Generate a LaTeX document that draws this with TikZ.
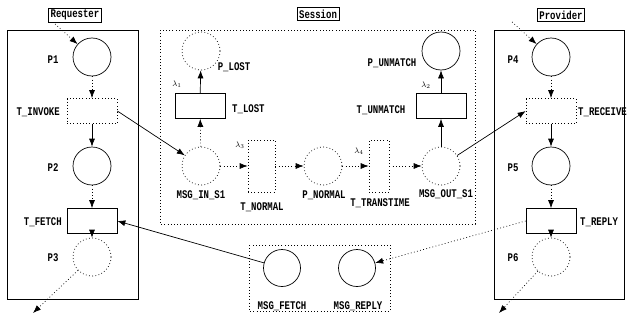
\documentclass[tikz,border=0pt]{standalone}
\usepackage{fontspec}
\newfontfamily\labfont{Liberation Mono}
\usetikzlibrary{arrows.meta}
\newcommand{\tl}[1]{\scalebox{1}[1.3]{#1}}
\tikzset{
  every node/.style={font=\labfont\bfseries\fontsize{9}{10}\selectfont, inner sep=0pt},
  dotline/.style={dash pattern=on 0.8pt off 2.4pt},
  place/.style={circle, draw, line width=0.7pt, minimum size=38pt},
  dplace/.style={circle, draw, dotline, line width=0.7pt, minimum size=38pt},
  trans/.style={rectangle, draw, line width=0.7pt, minimum width=50pt, minimum height=25pt},
  dtrans/.style={rectangle, draw, dotline, line width=0.7pt, minimum width=50pt, minimum height=25pt},
  vtrans/.style={rectangle, draw, dotline, line width=0.7pt, minimum width=27pt, minimum height=52pt},
  vtrans2/.style={rectangle, draw, dotline, line width=0.7pt, minimum width=20pt, minimum height=52pt},
  titlebox/.style={rectangle, draw, line width=0.7pt, inner xsep=2pt, inner ysep=2pt},
  arc/.style={-{Latex[length=8pt,width=6pt]}, line width=0.7pt},
  darc/.style={-{Latex[length=8pt,width=6pt,sep=0pt]}, line width=0.7pt, dotline},
  lam/.style={font=\fontsize{8}{9}\selectfont},
}
\begin{document}
\begin{tikzpicture}[x=1pt,y=-1pt]
\useasboundingbox (0,0) rectangle (631,324);
% Requester
\node[titlebox] (req) at (75,15) {\tl{Requester}};
\draw[line width=0.7pt] (7,30) rectangle (138,299);
\node[place] (P1) at (92,57) {};
\node at (53,60) {\tl{P1}};
\node[dtrans] (TI) at (92,111) {};
\node[anchor=east] at (60,112) {\tl{T\_INVOKE}};
\node[place] (P2) at (92,166) {};
\node at (53,168) {\tl{P2}};
\node[trans] (TF) at (92,221) {};
\node[anchor=east] at (62,222) {\tl{T\_FETCH}};
\node[dplace] (P3) at (92,257) {};
\node at (53,258) {\tl{P3}};
\coordinate (rin) at (55,24);
\coordinate (rout) at (33,313);
\draw[darc] (rin) -- (P1);
\draw[darc] (P1) -- (TI);
\draw[arc] (TI) -- (P2);
\draw[darc] (P2) -- (TF);
\draw[darc] (TF) -- (P3);
\draw[darc] (P3) -- (rout);
% Session
\node[titlebox] (ses) at (318,14) {\tl{Session}};
\draw[dotline, line width=0.7pt] (160,30) rectangle (475,224);
\node[dplace] (PL) at (201,51) {};
\node at (234,67) {\tl{P\_LOST}};
\node[trans] (TL) at (200,106) {};
\node[anchor=west] at (232,109) {\tl{T\_LOST}};
\node[lam] at (177,84) {$\lambda_1$};
\node[dplace] (MI) at (201,166) {};
\node at (201,195) {\tl{MSG\_IN\_S1}};
\node[vtrans] (TN) at (261.5,166) {};
\node at (262,207) {\tl{T\_NORMAL}};
\node[lam] at (240,145) {$\lambda_3$};
\node[dplace] (PN) at (323,166) {};
\node at (324,195) {\tl{P\_NORMAL}};
\node[vtrans2] (TT) at (379,166) {};
\node at (380,203) {\tl{T\_TRANSTIME}};
\node[lam] at (359,151) {$\lambda_4$};
\node[dplace] (MO) at (441,166) {};
\node at (446,194) {\tl{MSG\_OUT\_S1}};
\node[place] (PU) at (441,51) {};
\node at (392,63) {\tl{P\_UNMATCH}};
\node[trans] (TU) at (441,106) {};
\node at (381,110) {\tl{T\_UNMATCH}};
\node[lam] at (426,85) {$\lambda_2$};
\draw[darc] (MI) -- (TL);
\draw[arc] (TL) -- (PL);
\draw[darc] (MI) -- (TN);
\draw[darc] (TN) -- (PN);
\draw[darc] (PN) -- (TT);
\draw[darc] (TT) -- (MO);
\draw[arc] (MO) -- (TU);
\draw[arc] (TU) -- (PU);
% Provider
\node[titlebox] (pro) at (561,15) {\tl{Provider}};
\draw[line width=0.7pt] (494,30) rectangle (624,299);
\node[place] (P4) at (551,57) {};
\node at (513,60) {\tl{P4}};
\node[dtrans] (TR) at (551,111) {};
\node[anchor=west] at (578,112) {\tl{T\_RECEIVE}};
\node[place] (P5) at (551,166) {};
\node at (513,168) {\tl{P5}};
\node[trans] (TRP) at (551,221) {};
\node[anchor=west] at (580,222) {\tl{T\_REPLY}};
\node[dplace] (P6) at (551,257) {};
\node at (513,258) {\tl{P6}};
\coordinate (pin) at (512,22);
\coordinate (pout) at (499,313);
\draw[darc] (pin) -- (P4);
\draw[darc] (P4) -- (TR);
\draw[arc] (TR) -- (P5);
\draw[darc] (P5) -- (TRP);
\draw[darc] (TRP) -- (P6);
\draw[darc] (P6) -- (pout);
% Messages
\draw[dotline, line width=0.7pt] (249,245) rectangle (390,311);
\node[place, minimum size=37pt] (MF) at (282,268) {};
\node at (282,306) {\tl{MSG\_FETCH}};
\node[place, minimum size=37pt] (MR) at (357,268) {};
\node at (358,306) {\tl{MSG\_REPLY}};
% cross connections
\draw[arc] (TI.east) -- (MI);
\draw[arc] (MO) -- (TR.west);
\draw[arc] (MF) -- (TF.east);
\draw[darc] (TRP.west) -- (MR);
\end{tikzpicture}
\end{document}
